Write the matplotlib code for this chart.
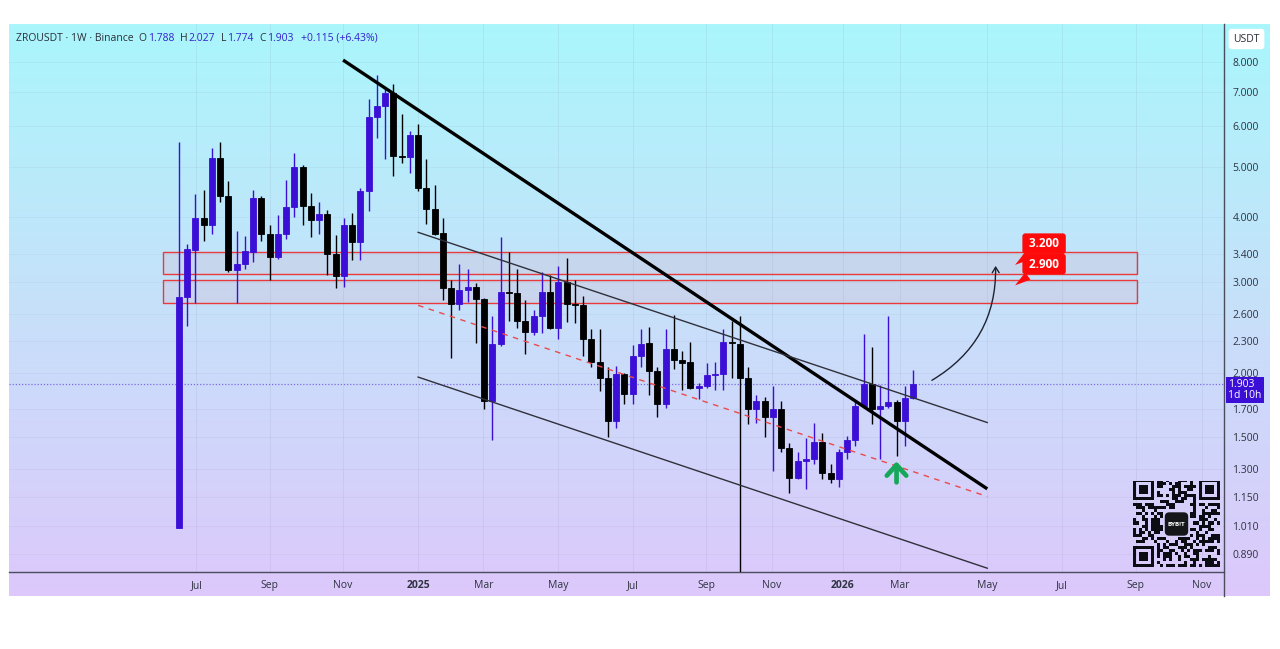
import hashlib
import numpy as np
import matplotlib
matplotlib.use("Agg")
import matplotlib.pyplot as plt
from matplotlib.patches import Rectangle, FancyArrowPatch, FancyBboxPatch
from matplotlib.ticker import FixedLocator, NullLocator
from matplotlib.transforms import blended_transform_factory
from matplotlib.lines import Line2D

# ---------------- data (weekly ZROUSDT candles) ----------------
week_index = list(range(90))
opens = [1.00, 2.80, 3.46, 3.99, 3.86, 5.21, 4.40, 3.16, 3.25, 3.43,
         4.35, 3.72, 3.35, 3.71, 4.19, 5.01, 4.21, 3.95, 4.06, 3.40,
         3.08, 3.86, 3.59, 4.50, 6.27, 6.57, 6.97, 5.26, 5.23, 5.77,
         4.56, 4.16, 3.73, 2.92, 2.72, 2.89, 2.93, 2.78, 1.76, 2.27,
         2.86, 2.85, 2.52, 2.40, 2.57, 2.86, 2.44, 3.00, 2.72, 2.71,
         2.32, 2.10, 1.95, 1.61, 1.99, 1.82, 2.15, 2.28, 2.01, 1.74,
         2.22, 2.12, 2.10, 1.87, 1.88, 1.98, 1.99, 2.29, 2.27, 1.95,
         1.70, 1.76, 1.64, 1.70, 1.43, 1.25, 1.35, 1.36, 1.47, 1.28,
         1.245, 1.40, 1.48, 1.72, 1.90, 1.70, 1.72, 1.75, 1.61, 1.788]
highs = [5.60, 3.55, 4.43, 4.52, 5.44, 5.60, 4.70, 3.76, 3.68, 4.52,
         4.39, 3.86, 4.04, 4.72, 5.34, 5.05, 4.45, 4.29, 4.14, 3.69,
         3.98, 4.07, 4.56, 6.77, 7.55, 7.12, 7.25, 6.33, 5.88, 6.06,
         5.18, 4.62, 3.98, 3.02, 3.25, 3.18, 2.98, 2.79, 2.58, 3.66,
         3.42, 3.17, 2.77, 2.65, 3.14, 3.09, 3.22, 3.33, 3.02, 2.81,
         2.43, 2.43, 2.05, 2.06, 2.00, 2.26, 2.43, 2.45, 2.05, 2.43,
         2.59, 2.20, 2.29, 1.91, 2.09, 2.10, 2.43, 2.52, 2.58, 2.05,
         1.81, 1.79, 1.88, 1.76, 1.46, 1.40, 1.49, 1.60, 1.53, 1.33,
         1.42, 1.51, 1.76, 2.38, 2.24, 1.89, 2.58, 1.77, 1.88, 2.027]
lows = [1.00, 2.46, 2.73, 3.60, 3.71, 4.29, 3.14, 2.73, 3.17, 3.27,
        3.60, 3.03, 3.32, 3.63, 4.01, 3.86, 3.67, 3.72, 3.09, 2.92,
        2.93, 3.31, 3.30, 4.12, 5.71, 5.18, 4.81, 5.10, 4.88, 4.50,
        3.88, 3.70, 2.76, 2.13, 2.65, 2.74, 2.28, 1.70, 1.48, 2.25,
        2.52, 2.44, 2.17, 2.37, 2.39, 2.43, 2.32, 2.51, 2.50, 2.15,
        2.05, 1.84, 1.50, 1.56, 1.74, 1.74, 2.05, 1.81, 1.64, 1.71,
        2.03, 1.85, 1.86, 1.78, 1.87, 1.85, 1.85, 1.95, 0.60, 1.59,
        1.60, 1.50, 1.29, 1.40, 1.17, 1.245, 1.19, 1.33, 1.245, 1.22,
        1.20, 1.36, 1.44, 1.71, 1.59, 1.36, 1.71, 1.38, 1.44, 1.774]
closes = [2.80, 3.47, 3.99, 3.86, 5.21, 4.39, 3.16, 3.25, 3.44, 4.35,
          3.71, 3.35, 3.71, 4.19, 5.01, 4.21, 3.95, 4.06, 3.39, 3.08,
          3.86, 3.59, 4.50, 6.27, 6.57, 6.96, 5.26, 5.24, 5.77, 4.55,
          4.16, 3.72, 2.92, 2.72, 2.89, 2.93, 2.78, 1.76, 2.27, 2.86,
          2.85, 2.52, 2.40, 2.57, 2.86, 2.44, 3.00, 2.72, 2.71, 2.32,
          2.10, 1.95, 1.61, 1.99, 1.82, 2.15, 2.27, 2.01, 1.74, 2.22,
          2.12, 2.09, 1.87, 1.88, 1.98, 1.99, 2.29, 2.28, 1.95, 1.70,
          1.76, 1.64, 1.70, 1.43, 1.25, 1.35, 1.36, 1.47, 1.28, 1.245,
          1.40, 1.48, 1.72, 1.90, 1.70, 1.72, 1.75, 1.61, 1.788, 1.903]

month_labels = ["Jul", "Sep", "Nov", "2025", "Mar", "May", "Jul", "Sep",
                "Nov", "2026", "Mar", "May", "Jul", "Sep", "Nov"]
month_positions = [2.1, 11.0, 19.9, 29.0, 36.9, 46.0, 55.0, 63.9,
                   71.9, 80.5, 87.4, 98.0, 107.0, 116.0, 124.0]
price_ticks = [8.0, 7.0, 6.0, 5.0, 4.0, 3.4, 3.0, 2.6, 2.3, 2.0,
               1.7, 1.5, 1.3, 1.15, 1.01, 0.89]

# drawings (x in weeks, y in USDT)
trend_x = [19.9, 98.0]
trend_y = [8.07, 1.19]
channel_x = [29.0, 98.0]
channel_upper_y = [3.74, 1.60]
channel_mid_y = [2.70, 1.15]
channel_lower_y = [1.96, 0.835]
zone_x = [-1.9, 116.2]
zone_upper = [3.11, 3.43]
zone_lower = [2.73, 3.02]
target_x = 101.1
target_prices = [3.21, 2.93]
target_labels = ["3.200", "2.900"]
curve_start = (91.0, 1.92)
curve_end = (99.0, 3.26)
green_arrow_x = 87.0
green_arrow_y = [1.225, 1.345]
x_limits = [-20.6, 126.7]
y_limits = [0.821, 9.48]
price_tag_top = 1.945

# ---------------- style ----------------
W, H = 1280, 649
BULL = "#3b0fd6"
BEAR = "#000000"
VALUE_BLUE = "#3422d0"
DARK = "#2a2e39"

plt.rcParams["font.family"] = ["Open Sans", "DejaVu Sans"]

fig = plt.figure(figsize=(W / 100, H / 100), dpi=100)
fig.patch.set_facecolor("white")


def fr(px_left, px_top, px_w, px_h):
    return [px_left / W, 1 - (px_top + px_h) / H, px_w / W, px_h / H]


# gradient background of the whole chart panel
bg = fig.add_axes(fr(9, 24, 1261, 572), zorder=0)
top_c = np.array([0.667, 0.965, 0.988])
mid_c = np.array([0.780, 0.880, 0.980])
bot_c = np.array([0.865, 0.785, 0.985])
t = np.linspace(0, 1, 256)[:, None]
grad = np.where(t < 0.5, top_c + (mid_c - top_c) * (t / 0.5),
                mid_c + (bot_c - mid_c) * ((t - 0.5) / 0.5))
bg.imshow(grad[:, None, :].repeat(2, axis=1), aspect="auto", extent=[0, 1, 0, 1])
bg.set_axis_off()

# main price axes
ax = fig.add_axes(fr(9, 24, 1215, 548), zorder=1)
ax.set_facecolor("none")
ax.set_yscale("log")
ax.set_xlim(*x_limits)
ax.set_ylim(*y_limits)

# grid
for mp in month_positions:
    ax.axvline(mp, color="#7d8aa8", lw=0.6, alpha=0.15, zorder=0.5)
for pt in price_ticks:
    ax.axhline(pt, color="#7d8aa8", lw=0.6, alpha=0.10, zorder=0.5)

# support / resistance zones
for lo, hi in (zone_upper, zone_lower):
    ax.add_patch(Rectangle((zone_x[0], lo), zone_x[1] - zone_x[0], hi - lo,
                           facecolor=(1.0, 0.2, 0.3, 0.07), edgecolor="#e83a3a",
                           lw=1.0, zorder=1, clip_on=False))

# candles
x = np.array(week_index, dtype=float)
o = np.array(opens)
hgh = np.array(highs)
lw_ = np.array(lows)
c = np.array(closes)
up = c >= o
cols = [BULL if u else BEAR for u in up]
ax.vlines(x, lw_, hgh, colors=cols, lw=1.0, zorder=3)
body_lo = np.minimum(o, c)
body_hi = np.maximum(o, c)
ax.bar(x, body_hi - body_lo, bottom=body_lo, width=0.72, color=cols,
       edgecolor=cols, linewidth=0.6, zorder=4)

# trend lines / channel
ax.plot(trend_x, trend_y, color="#000000", lw=2.4, zorder=5, solid_capstyle="butt")
ax.plot(channel_x, channel_upper_y, color="#30303a", lw=1.0, zorder=5)
ax.plot(channel_x, channel_lower_y, color="#30303a", lw=1.0, zorder=5)
ax.plot(channel_x, channel_mid_y, color="#ea4a4a", lw=1.0, ls=(0, (4, 4)), zorder=5)

# last price dotted line
last_price = closes[-1]
ax.axhline(last_price, color=BULL, lw=0.9, ls=(0, (1, 1.5)), alpha=0.55, zorder=2)

# curved arrow to target
ax.add_patch(FancyArrowPatch(curve_start, curve_end, connectionstyle="arc3,rad=0.3",
                             arrowstyle="->,head_length=4,head_width=2.5",
                             color="#1e2230", lw=1.0, zorder=6))

# green up arrow
ax.add_patch(FancyArrowPatch((green_arrow_x, green_arrow_y[0]), (green_arrow_x, green_arrow_y[1]),
                             arrowstyle="->,head_length=0.55,head_width=0.5",
                             mutation_scale=14, color="#16a85a", lw=3.4,
                             shrinkA=0, shrinkB=0, zorder=7))

# target callouts
for tp, lab in zip(target_prices, target_labels):
    ax.annotate(" " + lab + " ", xy=(target_x, tp), xytext=(22.5, 16.5),
                textcoords="offset points", ha="center", va="center",
                color="white", fontsize=8.5, fontweight="bold",
                bbox=dict(boxstyle="round,pad=0.32,rounding_size=0.25",
                          fc="#ff0a0a", ec="none"),
                arrowprops=dict(arrowstyle="wedge,tail_width=0.75,shrink_factor=0.5",
                                fc="#ff0a0a", ec="none"),
                zorder=8, annotation_clip=False)

# axes formatting
ax.yaxis.set_major_locator(FixedLocator(price_ticks))
ax.yaxis.set_minor_locator(NullLocator())
ax.set_yticklabels([f"{p:.3f}" for p in price_ticks])
ax.yaxis.tick_right()
ax.tick_params(axis="y", length=0, pad=6, labelsize=7.5, labelcolor="#2f3340")
ax.xaxis.set_major_locator(FixedLocator(month_positions))
ax.set_xticklabels(month_labels)
ax.tick_params(axis="x", length=0, pad=6, labelsize=7.5, labelcolor="#2f3340")
for lbl in ax.get_xticklabels():
    if lbl.get_text().isdigit():
        lbl.set_fontweight("bold")
for s in ("top", "left", "right"):
    ax.spines[s].set_visible(False)
ax.spines["bottom"].set_color("#4a4d5c")
ax.spines["bottom"].set_linewidth(1.0)

# right price-scale separator
fig.add_artist(Line2D([1224 / W, 1224 / W], [1 - 596 / H, 1 - 24 / H],
                      color="#4a4d5c", lw=1.0, zorder=3))

# last price tag
tr = blended_transform_factory(ax.transAxes, ax.transData)
ax.text(1.0035, price_tag_top, f"{last_price:.3f}\n1d 10h", transform=tr, ha="left", va="top",
        color="white", fontsize=7.5, linespacing=1.0, zorder=9, clip_on=False,
        bbox=dict(boxstyle="square,pad=0.18", fc=BULL, ec="none"))

# USDT box
fig.text(1246.5 / W, 1 - 39 / H, "USDT", ha="center", va="center", fontsize=7.5,
         color=DARK, zorder=5,
         bbox=dict(boxstyle="round,pad=0.45,rounding_size=0.3", fc="white", ec="none"))

# header
chg = closes[-1] - closes[-2]
pct = chg / closes[-2] * 100
pieces = [("ZROUSDT · 1W · Binance", DARK, 0), ("O", DARK, 5), (f"{opens[-1]:.3f}", VALUE_BLUE, 1),
          ("H", DARK, 6), (f"{highs[-1]:.3f}", VALUE_BLUE, 1),
          ("L", DARK, 6), (f"{lows[-1]:.3f}", VALUE_BLUE, 1),
          ("C", DARK, 6), (f"{closes[-1]:.3f}", VALUE_BLUE, 1),
          (f"{chg:+.3f} ({pct:+.2f}%)", VALUE_BLUE, 7)]
fig.canvas.draw()
rend = fig.canvas.get_renderer()
xpos = 16.0
for txt, colr, gap in pieces:
    xpos += gap
    tt = fig.text(xpos / W, 1 - 38.5 / H, txt, color=colr, fontsize=7.5, ha="left", va="center")
    xpos = tt.get_window_extent(renderer=rend).x1

# QR code (decorative)
qr_seed = "bybit.com/invite?ref=ZROUSDT-1W"
N = 29
bits = []
hsh = hashlib.sha256(qr_seed.encode()).digest()
while len(bits) < N * N:
    for b in hsh:
        bits.extend([(b >> k) & 1 for k in range(8)])
    hsh = hashlib.sha256(hsh).digest()
M = np.array(bits[:N * N]).reshape(N, N)
finder = np.ones((7, 7), dtype=int)
finder[1:6, 1:6] = 0
finder[2:5, 2:5] = 1
for r0, c0 in ((0, 0), (0, N - 7), (N - 7, 0)):
    M[max(r0 - 1, 0):r0 + 8, max(c0 - 1, 0):c0 + 8] = 0
    M[r0:r0 + 7, c0:c0 + 7] = finder
M[10:19, 10:19] = 0
img = np.zeros((N, N, 4))
img[M == 1] = [0.05, 0.05, 0.08, 1.0]
qa = fig.add_axes(fr(1133, 480, 87, 88), zorder=4)
qa.imshow(img, interpolation="nearest", extent=[0, N, N, 0])
qa.set_xlim(0, N)
qa.set_ylim(N, 0)
qa.set_axis_off()
qa.add_patch(FancyBboxPatch((10.6, 10.6), 7.8, 7.8, boxstyle="round,pad=0,rounding_size=1.5",
                            fc="#15161a", ec="none"))
qa.text(14.5, 14.5, "BYB!T", color="white", fontsize=4.5, ha="center", va="center",
        fontweight="bold")

fig.savefig("out.png", dpi=100)
